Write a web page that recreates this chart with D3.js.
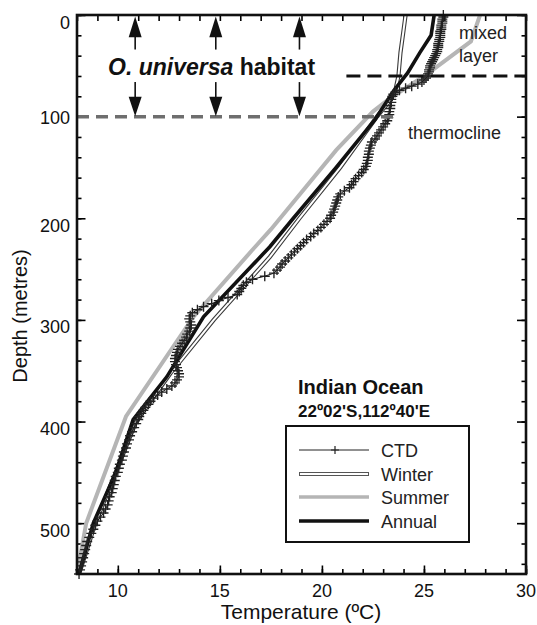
<!DOCTYPE html>
<html><head><meta charset="utf-8">
<script src="https://cdn.jsdelivr.net/npm/d3@7/dist/d3.min.js"></script>
<style>body{margin:0;background:#fff}svg{display:block;font-family:"Liberation Sans",Arial,Helvetica,sans-serif}</style>
</head><body><svg id="c" width="537" height="625"></svg>
<script>
// ---------- data ----------
const ctdDepth = [0,2,4,6,8,10,12,14,16,18,20,22,24,26,28,30,32,34,36,38,40,42,44,46,48,50,52,54,56,58,60,62,64,66,68,70,72,74,76,78,80,83,86,89,92,95,98,101,104,107,110,113,116,119,122,125,128,131,134,137,140,143,146,149,152,155,158,161,164,167,170,173,176,179,182,185,188,191,194,197,200,203,206,209,212,215,218,221,224,227,230,233,236,239,242,245,248,251,254,257,260,263,266,269,272,275,278,281,284,287,290,293,296,299,302,305,308,311,314,317,320,323,326,329,332,335,338,341,344,347,350,353,356,359,362,365,368,371,374,377,380,383,386,389,392,395,398,402,406,410,414,418,422,426,430,434,438,442,446,450,454,458,462,466,470,474,478,482,486,490,494,498,502,506,510,514,518,522,526,530,534,538,542,546,550];
const ctdTemp = [25.95,25.95,25.9,25.9,25.9,25.85,25.85,25.85,25.8,25.8,25.8,25.8,25.75,25.75,25.7,25.7,25.7,25.65,25.65,25.6,25.55,25.5,25.45,25.4,25.35,25.3,25.3,25.25,25.25,25.2,25.2,25.1,25.0,24.9,24.7,24.4,24.1,23.8,23.6,23.5,23.45,23.4,23.4,23.35,23.35,23.3,23.3,23.25,23.2,23.1,23.0,22.9,22.8,22.7,22.6,22.45,22.4,22.35,22.3,22.3,22.25,22.25,22.2,22.15,22.05,21.95,21.8,21.65,21.55,21.45,21.35,21.1,20.9,20.8,20.75,20.7,20.65,20.6,20.55,20.45,20.4,20.25,20.1,19.95,19.8,19.6,19.45,19.25,19.1,18.95,18.8,18.65,18.5,18.35,18.2,18.05,17.95,17.8,17.65,17.2,16.6,16.3,16.15,16.05,15.95,15.85,15.4,14.95,14.6,14.2,13.9,13.65,13.55,13.5,13.55,13.6,13.55,13.5,13.4,13.35,13.25,13.15,13.05,12.95,12.9,12.85,12.8,12.8,12.85,12.9,12.95,13.0,13.0,12.9,12.8,12.65,12.4,12.15,11.95,11.75,11.6,11.5,11.35,11.25,11.15,11.05,11.0,10.9,10.8,10.7,10.6,10.55,10.45,10.4,10.3,10.25,10.2,10.1,10.05,10.0,9.9,9.85,9.8,9.75,9.7,9.6,9.55,9.5,9.4,9.3,9.15,9.0,8.9,8.8,8.7,8.6,8.5,8.45,8.4,8.35,8.3,8.25,8.2,8.15,8.1];

const winterDepth = [0,15,37,60,74,85,100,150,200,238,300,352,400,450,500,550];
const winterTemp  = [24.1,24.0,23.85,23.75,23.6,23.3,22.7,20.9,18.9,17.45,14.7,12.6,10.9,9.9,8.9,8.1];

const summerDepth = [0,26,56,84,95,133,211,231,297,395,500,550];
const summerTemp  = [27.75,27.3,25.3,23.2,22.5,20.7,17.5,16.6,13.7,10.4,8.45,8.0];

const annualDepth = [0,20,37,57,75,103,150,200,228,297,356,398,450,500,550];
const annualTemp  = [25.5,25.35,24.8,24.2,23.5,22.6,20.7,18.6,17.45,14.2,12.4,10.75,9.9,8.8,8.1];

const tempTickLabels  = [10,15,20,25,30];
const depthTickLabels = [0,100,200,300,400,500];
const legendLabels = ["CTD","Winter","Summer","Annual"];
const habitatDepth = 100, mixedLayerDepth = 60;
const arrowTemps = [10.85,14.8,18.9];

// ---------- layout ----------
const svg = d3.select("#c");
const x = d3.scaleLinear().domain([8,30]).range([77,526]);
const y = d3.scaleLinear().domain([0,550]).range([15,574]);
const zip = (d,t) => d.map((v,i)=>({depth:v,temp:t[i]}));
const line = d3.line().x(d=>x(d.temp)).y(d=>y(d.depth));

// ---------- axes ticks (inward) ----------
function tickAxis(axisFn, scale, values, size, transform){
  const g = svg.append("g").attr("transform",transform)
    .call(axisFn(scale).tickValues(values).tickSize(size).tickFormat(""));
  g.select(".domain").remove();
  g.selectAll(".tick line").attr("stroke","#000").attr("stroke-width",1.6);
  return g;
}
const tMinor = d3.range(8,31,1), tMajor = tempTickLabels;
const dMinor = d3.range(0,551,20), dMajor = depthTickLabels;
tickAxis(d3.axisBottom, x, tMinor, -5, `translate(0,${y(550)})`);
tickAxis(d3.axisBottom, x, tMajor, -8.5, `translate(0,${y(550)})`);
tickAxis(d3.axisTop, x, tMinor, -6, `translate(0,${y(0)})`);
tickAxis(d3.axisLeft, y, dMinor, -4.5, `translate(${x(8)},0)`);
tickAxis(d3.axisLeft, y, dMajor, -8.5, `translate(${x(8)},0)`);
tickAxis(d3.axisRight, y, dMinor, -4.5, `translate(${x(30)},0)`);
tickAxis(d3.axisRight, y, dMajor, -9, `translate(${x(30)},0)`);

// tick labels
svg.append("g").selectAll("text").data(tempTickLabels).join("text")
  .attr("x",d=>x(d)).attr("y",597).attr("text-anchor","middle")
  .attr("font-size",18).attr("fill","#111").text(d=>d);
svg.append("g").selectAll("text").data(depthTickLabels).join("text")
  .attr("x",70).attr("y",d=>y(d)+(d===100?7.5:13.5)).attr("text-anchor","end")
  .attr("font-size",18).attr("fill","#111").text(d=>d);

// axis titles
svg.append("text").attr("x",301).attr("y",619).attr("text-anchor","middle")
  .attr("font-size",21).attr("fill","#111").text("Temperature (ºC)");
svg.append("text").attr("transform","translate(27,316) rotate(-90)")
  .attr("text-anchor","middle").attr("font-size",20).attr("fill","#111").text("Depth (metres)");

// ---------- profiles ----------
svg.append("path").datum(zip(summerDepth,summerTemp)).attr("d",line)
  .attr("fill","none").attr("stroke","#b5b5b5").attr("stroke-width",4);
const wData = zip(winterDepth,winterTemp);
svg.append("path").datum(wData).attr("d",line)
  .attr("fill","none").attr("stroke","#3a3a3a").attr("stroke-width",4.2);
svg.append("path").datum(wData).attr("d",line)
  .attr("fill","none").attr("stroke","#fff").attr("stroke-width",2);
svg.append("path").datum(zip(annualDepth,annualTemp)).attr("d",line)
  .attr("fill","none").attr("stroke","#111").attr("stroke-width",3.6);
const cData = zip(ctdDepth,ctdTemp);
svg.append("path").datum(cData).attr("d",line)
  .attr("fill","none").attr("stroke","#111").attr("stroke-width",1);
svg.append("path")
  .attr("d",cData.map(d=>{const px=x(d.temp),py=y(d.depth);return `M${px-5},${py}h10M${px},${py-5}v10`;}).join(""))
  .attr("fill","none").attr("stroke","#222").attr("stroke-width",1.35);

// ---------- dashed reference lines ----------
svg.append("line").attr("x1",x(8)).attr("x2",x(23.7)).attr("y1",y(habitatDepth)).attr("y2",y(habitatDepth))
  .attr("stroke","#6e6e6e").attr("stroke-width",3.5).attr("stroke-dasharray","12,7");
svg.append("line").attr("x1",x(21.2)).attr("x2",x(30)).attr("y1",y(mixedLayerDepth)).attr("y2",y(mixedLayerDepth))
  .attr("stroke","#111").attr("stroke-width",3.2).attr("stroke-dasharray","14,7");

// frame
svg.append("rect").attr("x",x(8)).attr("y",y(0)).attr("width",x(30)-x(8)).attr("height",y(550)-y(0))
  .attr("fill","none").attr("stroke","#111").attr("stroke-width",2.6);

// ---------- habitat arrows ----------
const ag = svg.append("g");
arrowTemps.forEach(t=>{
  const ax = x(t), hw = 6.5;
  ag.append("line").attr("x1",ax).attr("x2",ax).attr("y1",y(20)).attr("y2",y(34)).attr("stroke","#111").attr("stroke-width",1.6);
  ag.append("path").attr("d",`M${ax},${y(1.5)}L${ax-hw},${y(22)}L${ax+hw},${y(22)}Z`).attr("fill","#111");
  ag.append("line").attr("x1",ax).attr("x2",ax).attr("y1",y(66)).attr("y2",y(82)).attr("stroke","#111").attr("stroke-width",1.6);
  ag.append("path").attr("d",`M${ax},${y(99.5)}L${ax-hw},${y(80.5)}L${ax+hw},${y(80.5)}Z`).attr("fill","#111");
});
const ht = svg.append("text").attr("x",108).attr("y",75).attr("font-size",23).attr("font-weight","bold").attr("fill","#111");
ht.append("tspan").attr("font-style","italic").text("O. universa");
ht.append("tspan").text(" habitat");

// annotations
svg.append("text").attr("x",459).attr("y",39).attr("font-size",18).attr("fill","#222").text("mixed");
svg.append("text").attr("x",459).attr("y",62).attr("font-size",18).attr("fill","#222").text("layer");
svg.append("text").attr("x",408).attr("y",139).attr("font-size",18).attr("fill","#222").text("thermocline");
svg.append("text").attr("x",298).attr("y",394).attr("font-size",20).attr("font-weight","bold").attr("fill","#111").text("Indian Ocean");
svg.append("text").attr("x",298).attr("y",417).attr("font-size",17).attr("font-weight","bold").attr("fill","#111").text("22º02'S,112º40'E");

// ---------- legend ----------
const lg = svg.append("g");
lg.append("rect").attr("x",286).attr("y",426).attr("width",183).attr("height",116)
  .attr("fill","#fff").attr("stroke","#111").attr("stroke-width",2);
const ly = [450,474,497,521];
legendLabels.forEach((lab,i)=>{
  const yy = ly[i];
  if(i===0){
    lg.append("line").attr("x1",299).attr("x2",369).attr("y1",yy).attr("y2",yy).attr("stroke","#222").attr("stroke-width",1);
    lg.append("path").attr("d",`M${335-4},${yy}h8M335,${yy-4}v8`).attr("stroke","#222").attr("stroke-width",1.2);
  } else if(i===1){
    lg.append("line").attr("x1",299).attr("x2",369).attr("y1",yy).attr("y2",yy).attr("stroke","#555").attr("stroke-width",4);
    lg.append("line").attr("x1",300).attr("x2",368).attr("y1",yy).attr("y2",yy).attr("stroke","#fff").attr("stroke-width",1.8);
  } else if(i===2){
    lg.append("line").attr("x1",299).attr("x2",369).attr("y1",yy).attr("y2",yy).attr("stroke","#b5b5b5").attr("stroke-width",3.5);
  } else {
    lg.append("line").attr("x1",299).attr("x2",369).attr("y1",yy).attr("y2",yy).attr("stroke","#111").attr("stroke-width",3.5);
  }
  lg.append("text").attr("x",381).attr("y",yy+6.5).attr("font-size",18).attr("fill","#222").text(lab);
});
</script></body></html>
